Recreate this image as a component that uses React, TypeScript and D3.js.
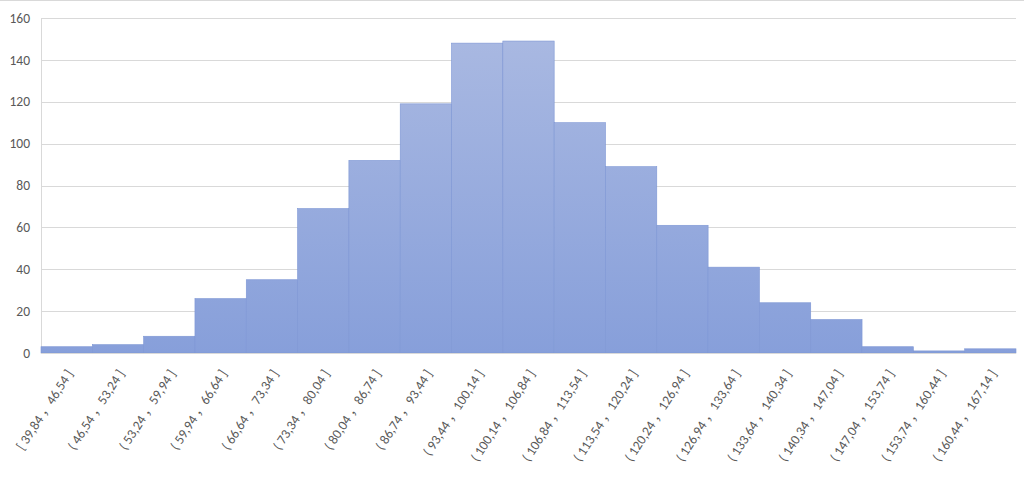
import React from "react";
import * as d3 from "d3";

const binEdges = ["39,84","46,54","53,24","59,94","66,64","73,34","80,04","86,74","93,44","100,14","106,84","113,54","120,24","126,94","133,64","140,34","147,04","153,74","160,44","167,14"];
const counts = [3, 4, 8, 26, 35, 69, 92, 119, 148, 149, 110, 89, 61, 41, 24, 16, 3, 1, 2];
const yTicks = [0, 20, 40, 60, 80, 100, 120, 140, 160];
const categories = counts.map((_, i) => `${i === 0 ? "[" : "("} ${binEdges[i]} ，${binEdges[i + 1]} ]`);

const W = 1024, H = 482;
const left = 41, right = 1016, top = 18, bottom = 353;
const font = "Calibri, Carlito, Lato, 'Noto Sans CJK SC', sans-serif";

export default function App() {
  const x = d3.scaleBand<string>().domain(categories).range([left, right]).padding(0);
  const y = d3.scaleLinear().domain([0, 160]).range([bottom, top]);
  return (
    <svg width={W} height={H} style={{ position: "absolute", left: 0, top: 0, background: "#fff" }}>
      <defs>
        <linearGradient id="barGrad" gradientUnits="userSpaceOnUse" x1="0" y1={top} x2="0" y2={bottom}>
          <stop offset="0%" stopColor="#abbae2" />
          <stop offset="100%" stopColor="#879fda" />
        </linearGradient>
      </defs>
      <line x1={0} x2={W} y1={0.5} y2={0.5} stroke="#d9d9d9" />
      {yTicks.map(t => (
        <g key={t}>
          {t > 0 && <line x1={left} x2={right} y1={Math.round(y(t)) + 0.5} y2={Math.round(y(t)) + 0.5} stroke="#d9d9d9" />}
          <text x={30} y={y(t)} dy="0.35em" textAnchor="end" fontSize={13.5} fill="#595959" fontFamily={font}>{t}</text>
        </g>
      ))}
      <line x1={left + 0.5} x2={left + 0.5} y1={top} y2={bottom} stroke="#d9d9d9" />
      {counts.map((c, i) => (
        <rect key={i} x={x(categories[i])!} y={y(c)} width={x.bandwidth()} height={bottom - y(c)}
          fill="url(#barGrad)" stroke="#7d96d4" strokeWidth={0.6} />
      ))}
      <line x1={left} x2={right} y1={bottom + 0.5} y2={bottom + 0.5} stroke="#d9d9d9" />
      {categories.map((c, i) => {
        const cx = x(c)! + x.bandwidth() / 2 + 3;
        const cy = bottom + 18;
        return (
          <text key={i} transform={`translate(${cx},${cy}) rotate(-57)`} textAnchor="end" dy="0.35em"
            fontSize={13.5} fill="#595959" fontFamily={font} style={{ whiteSpace: "pre" }}>{c}</text>
        );
      })}
    </svg>
  );
}
